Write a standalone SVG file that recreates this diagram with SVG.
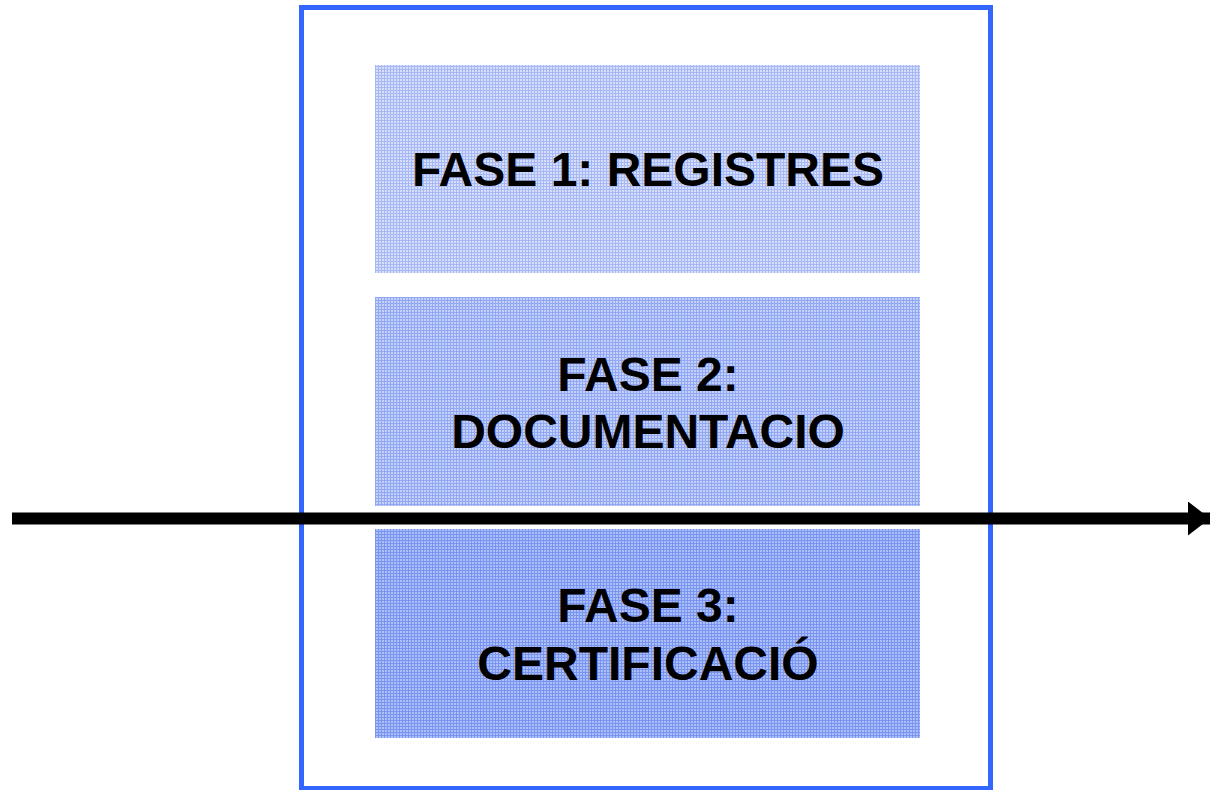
<svg xmlns="http://www.w3.org/2000/svg" width="1210" height="790" viewBox="0 0 1210 790">
<defs>
<style>
.lbl{font-family:"Liberation Sans",Arial,sans-serif;font-weight:bold;font-size:48px;fill:#000;text-anchor:middle}
.frame{fill:#fff;stroke:#3366ff;stroke-width:5}
</style>
<pattern id="p1" width="6" height="6" patternUnits="userSpaceOnUse">
<rect width="6" height="6" fill="#d6defb"/>
<path d="M0 0.5H6M0 3.5H6M0.5 0V6M3.5 0V6" stroke="#a7b9f5" stroke-width="1"/>
</pattern>
<pattern id="p2" width="6" height="6" patternUnits="userSpaceOnUse">
<rect width="6" height="6" fill="#c3d0fa"/>
<path d="M0 0.5H6M0 3.5H6M0.5 0V6M3.5 0V6" stroke="#92a8f3" stroke-width="1"/>
</pattern>
<pattern id="p3" width="6" height="6" patternUnits="userSpaceOnUse">
<rect width="6" height="6" fill="#adbff8"/>
<path d="M0 0.5H6M0 3.5H6M0.5 0V6M3.5 0V6" stroke="#7a95f0" stroke-width="1"/>
</pattern>
<marker id="ah" markerUnits="userSpaceOnUse" markerWidth="22" markerHeight="34" refX="22" refY="17" orient="auto">
<path d="M0 0L22 17L0 34Z" fill="#000"/>
</marker>
</defs>
<rect width="1210" height="790" fill="#fff"/>
<g id="frame">
<rect class="frame" x="301.5" y="7.5" width="689" height="781"/>
</g>
<g id="fase1">
<rect x="375" y="65" width="545" height="208" fill="url(#p1)"/>
<text class="lbl" x="648" y="186">FASE 1: REGISTRES</text>
</g>
<g id="fase2">
<rect x="375" y="297" width="545" height="209" fill="url(#p2)"/>
<text class="lbl" x="648" y="391">FASE 2:</text>
<text class="lbl" x="648" y="448">DOCUMENTACIO</text>
</g>
<g id="fase3">
<rect x="375" y="529" width="545" height="209" fill="url(#p3)"/>
<text class="lbl" x="648" y="622">FASE 3:</text>
<text class="lbl" x="648" y="680">CERTIFICACIÓ</text>
</g>
<g id="connectors">
<line x1="12" y1="518.5" x2="1210" y2="518.5" stroke="#000" stroke-width="12" marker-end="url(#ah)"/>
</g>
</svg>
